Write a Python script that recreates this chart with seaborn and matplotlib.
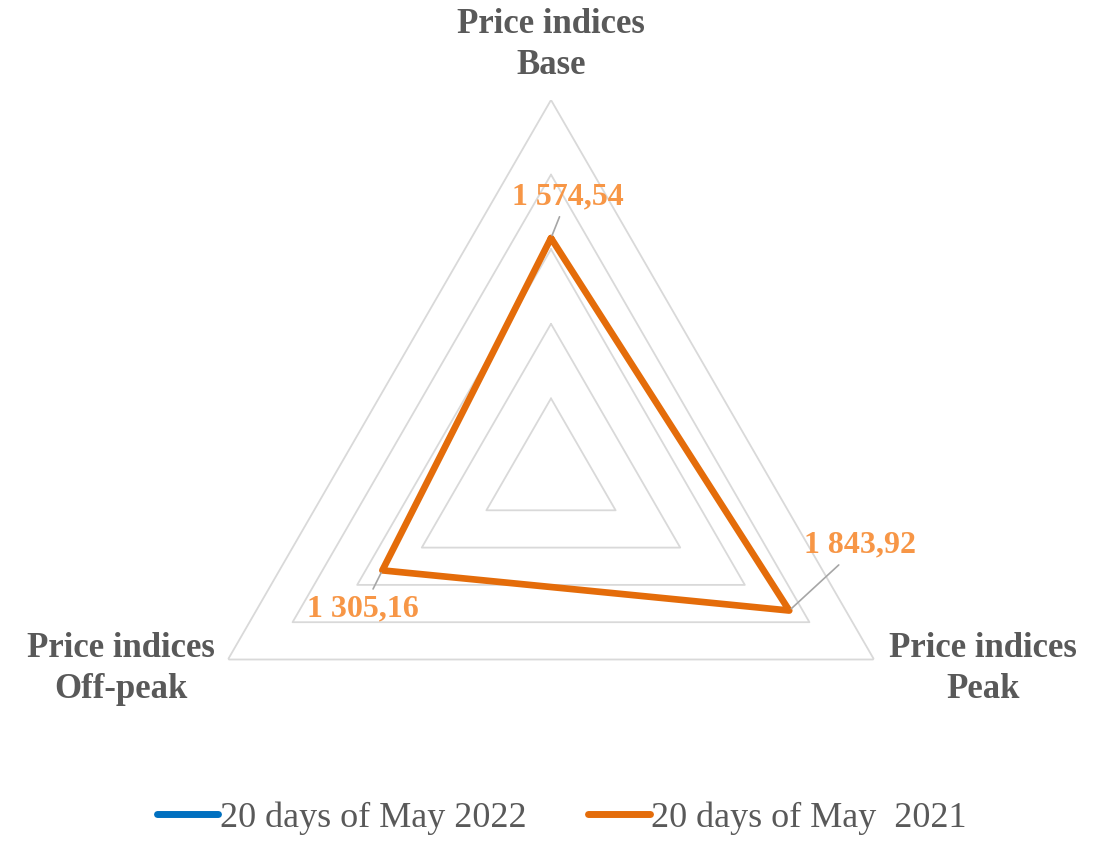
import numpy as np
import matplotlib.pyplot as plt
import pandas as pd
import seaborn as sns

# data
categories = ["Price indices\nBase", "Price indices\nPeak", "Price indices\nOff-peak"]
may_2021 = [1574.54, 1843.92, 1305.16]
may_2022 = [np.nan, np.nan, np.nan]  # not visible on the chart
label_2021 = "20 days of May  2021"
label_2022 = "20 days of May 2022"
rings = [500, 1000, 1500, 2000, 2500]

sns.set_theme(style="white")
plt.rcParams['font.family'] = ['Liberation Serif', 'DejaVu Serif']

W, H = 1102, 843
fig = plt.figure(figsize=(W / 100, H / 100), dpi=100)
cx, cy, R = 551, 473, 373
ax = fig.add_axes([(cx - R) / W, (H - cy - R) / H, 2 * R / W, 2 * R / H], projection='polar')
ax.set_theta_offset(np.pi / 2)
ax.set_theta_direction(-1)
ax.set_ylim(0, rings[-1])
ax.grid(False)
ax.spines['polar'].set_visible(False)
ax.set_xticks([])
ax.set_yticks([])
ax.patch.set_alpha(0)

n = len(categories)
theta = np.arange(n) * 2 * np.pi / n
theta_closed = np.append(theta, 2 * np.pi)

# triangular grid
for r in rings:
    ax.plot(theta_closed, [r] * (n + 1), color='#D9D9D9', lw=1.3, zorder=1)

# series
df21 = pd.DataFrame({'theta': theta_closed, 'value': may_2021 + may_2021[:1]})
sns.lineplot(data=df21, x='theta', y='value', sort=False, estimator=None, ax=ax,
             color='#E46C0A', lw=4.8, zorder=3,
             solid_joinstyle='round', solid_capstyle='round')
ax.plot(theta_closed, may_2022 + may_2022[:1], color='#0070C0', lw=5, zorder=3)
ax.set_xlabel('')
ax.set_ylabel('')

# data labels
offsets = [(12, 30), (51, 47), (-14, -28)]
for t, v, off in zip(theta, may_2021, offsets):
    txt = f"{v:,.2f}".replace(',', ' ').replace('.', ',')
    ax.annotate(txt, xy=(t, v), xytext=off, textcoords='offset points',
                ha='center', va='center', fontsize=23, fontweight='bold', color='#F79646',
                arrowprops=dict(arrowstyle='-', color='#A6A6A6', lw=1.2, shrinkA=2, shrinkB=2),
                zorder=4)

# category labels
label_pos = [(551, 45), (983, 669), (121, 669)]
for lab, (px, py) in zip(categories, label_pos):
    fig.text(px / W, 1 - py / H, lab, ha='center', va='center', fontsize=25,
             fontweight='bold', color='#595959', linespacing=1.3)

# legend
h22 = plt.Line2D([], [], color='#0070C0', lw=5, solid_capstyle='round')
h21 = plt.Line2D([], [], color='#E46C0A', lw=5, solid_capstyle='round')
fig.legend([h22, h21], [label_2022, label_2021], loc='center', bbox_to_anchor=(0.51, 1 - 818 / H),
           ncol=2, frameon=False, fontsize=26, labelcolor='#595959',
           handlelength=1.7, handletextpad=0.05, columnspacing=1.7)

fig.savefig('out.png', dpi=100)
